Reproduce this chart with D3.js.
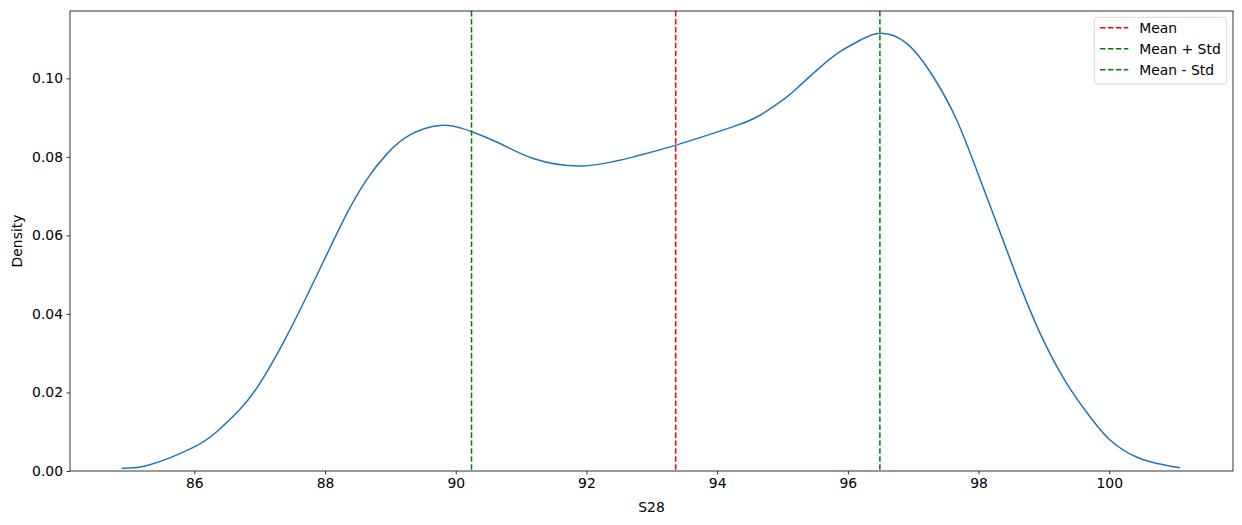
<!DOCTYPE html>
<html>
<head>
<meta charset="utf-8">
<script src="https://cdn.jsdelivr.net/npm/d3@7"></script>
<style>
  html, body { margin: 0; padding: 0; background: #fff; }
  svg { display: block; font-family: "DejaVu Sans", sans-serif; }
</style>
</head>
<body>
<svg id="chart" width="1242" height="525"></svg>
<script>
// KDE curve of S28
const kdeX = [84.889, 85.322, 85.985, 86.343, 86.699, 87.005, 87.362, 87.720, 88.026, 88.332,
              88.638, 88.944, 89.300, 89.759, 90.065, 90.249, 90.677, 91.187, 91.952, 92.717,
              93.370, 94.247, 94.656, 95.038, 95.268, 95.574, 95.880, 96.186, 96.492, 96.900,
              97.307, 97.665, 97.971, 98.277, 98.583, 98.940, 99.348, 99.705, 100.011, 100.470, 101.082];
const kdeY = [0.0007, 0.0016, 0.0060, 0.0100, 0.0157, 0.0224, 0.0327, 0.0445, 0.0551, 0.0655,
              0.0742, 0.0807, 0.0856, 0.0880, 0.0874, 0.0864, 0.0834, 0.0796, 0.0777, 0.0800,
              0.0830, 0.0877, 0.0906, 0.0949, 0.0982, 0.1028, 0.1068, 0.1097, 0.1115, 0.1089,
              0.1004, 0.0894, 0.0766, 0.0631, 0.0495, 0.0351, 0.0223, 0.0138, 0.0079, 0.0032, 0.0008];

const meanValue = 93.366;
const stdValue = 3.124;
const refLabels = ["Mean", "Mean + Std", "Mean - Std"];
const refValues = [meanValue, meanValue - stdValue, meanValue + stdValue];
const refColors = ["red", "green", "green"];

const xTicks = [86, 88, 90, 92, 94, 96, 98, 100];
const yTicks = [0.00, 0.02, 0.04, 0.06, 0.08, 0.10];

const xLabel = "S28";
const yLabel = "Density";

const L = 70, R = 1233, T = 11, B = 471;
const svg = d3.select("#chart");

const x = d3.scaleLinear().domain([84.098, 101.893]).range([L, R]);
const y = d3.scaleLinear().domain([0, 0.11715]).range([B, T]);

const fs = 13.9;

// curve
const pts = kdeX.map((v, i) => [v, kdeY[i]]);
svg.append("path")
  .datum(pts)
  .attr("fill", "none")
  .attr("stroke", "#1f77b4")
  .attr("stroke-width", 1.5)
  .attr("stroke-linejoin", "round")
  .attr("d", d3.line().x(d => x(d[0])).y(d => y(d[1])).curve(d3.curveNatural));

// reference lines
refValues.forEach((v, i) => {
  svg.append("line")
    .attr("x1", x(v)).attr("x2", x(v))
    .attr("y1", T).attr("y2", B)
    .attr("stroke", refColors[i])
    .attr("stroke-width", 1.5)
    .attr("stroke-dasharray", "5.55,2.4");
});

// axes
const xAxis = d3.axisBottom(x).tickValues(xTicks).tickSize(3.5).tickPadding(3.5).tickFormat(d3.format("d"));
const gx = svg.append("g").attr("transform", `translate(0,${B})`).call(xAxis);
const yAxis = d3.axisLeft(y).tickValues(yTicks).tickSize(3.5).tickPadding(3.5).tickFormat(d3.format(".2f"));
const gy = svg.append("g").attr("transform", `translate(${L},0)`).call(yAxis);
[gx, gy].forEach(g => {
  g.select(".domain").remove();
  g.selectAll(".tick line").attr("stroke", "#000").attr("stroke-width", 0.8);
  g.selectAll(".tick text").attr("fill", "#000").style("font-size", fs + "px").style("font-family", "DejaVu Sans");
});

// frame
svg.append("rect")
  .attr("x", L).attr("y", T).attr("width", R - L).attr("height", B - T)
  .attr("fill", "none").attr("stroke", "#000").attr("stroke-width", 0.8);

// axis labels
svg.append("text")
  .attr("x", (L + R) / 2).attr("y", 512)
  .attr("text-anchor", "middle")
  .style("font-size", fs + "px")
  .text(xLabel);
svg.append("text")
  .attr("transform", `translate(22,${(T + B) / 2}) rotate(-90)`)
  .attr("text-anchor", "middle")
  .style("font-size", fs + "px")
  .text(yLabel);

// legend
const lg = svg.append("g");
lg.append("rect")
  .attr("x", 1094.3).attr("y", 17.3).attr("width", 132.4).attr("height", 66.7)
  .attr("rx", 3).attr("ry", 3)
  .attr("fill", "#fff").attr("fill-opacity", 0.8)
  .attr("stroke", "#cccccc").attr("stroke-width", 0.8);
const legendOrder = [0, 2, 1];
const rowY = [27.8, 48.8, 69.7];
legendOrder.forEach((k, i) => {
  lg.append("line")
    .attr("x1", 1100).attr("x2", 1128.3)
    .attr("y1", rowY[i]).attr("y2", rowY[i])
    .attr("stroke", refColors[k]).attr("stroke-width", 1.5)
    .attr("stroke-dasharray", "5.55,2.4");
  lg.append("text")
    .attr("x", 1139.3).attr("y", rowY[i] + 5)
    .style("font-size", fs + "px")
    .text(refLabels[i]);
});
</script>
</body>
</html>
